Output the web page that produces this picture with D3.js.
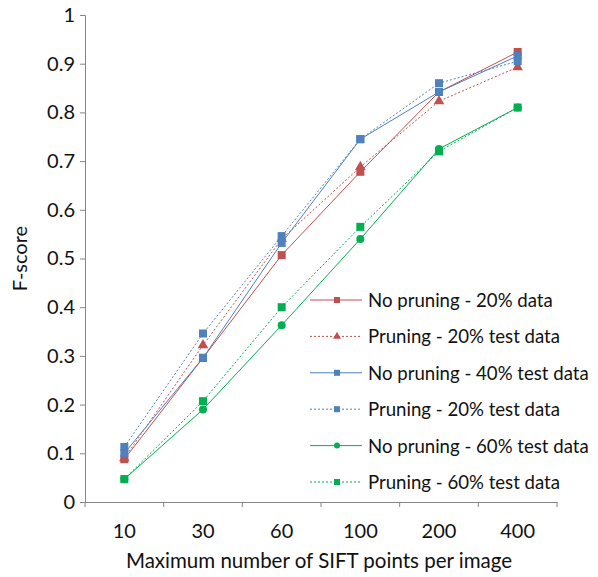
<!DOCTYPE html>
<html>
<head>
<meta charset="utf-8">
<script src="https://cdn.jsdelivr.net/npm/d3@7"></script>
<style>
  body { margin: 0; background: #fff; }
  text { font-family: Lato, "Open Sans", sans-serif; fill: #111; }
</style>
</head>
<body>
<div id="chart"></div>
<script>
// categories on the x axis
var categories = ["10", "30", "60", "100", "200", "400"];
var yTicks = [0, 0.1, 0.2, 0.3, 0.4, 0.5, 0.6, 0.7, 0.8, 0.9, 1];

// series values
var noPrune20   = [0.088, 0.296, 0.507, 0.678, 0.842, 0.924];
var prune20red  = [0.090, 0.322, 0.540, 0.688, 0.823, 0.893];
var noPrune40   = [0.100, 0.296, 0.532, 0.745, 0.842, 0.916];
var prune20blue = [0.113, 0.346, 0.546, 0.745, 0.860, 0.905];
var noPrune60   = [0.047, 0.190, 0.363, 0.540, 0.725, 0.810];
var prune60     = [0.047, 0.207, 0.400, 0.565, 0.720, 0.810];

var seriesNames = ["No pruning - 20% data", "Pruning - 20% test data",
  "No pruning - 40% test data", "Pruning - 20% test data",
  "No pruning - 60% test data", "Pruning - 60% test data"];

var series = [
  {name: seriesNames[0], values: noPrune20,   color: "#C0504D", dash: null,  marker: "square"},
  {name: seriesNames[1], values: prune20red,  color: "#C0504D", dash: "2,2", marker: "triangle"},
  {name: seriesNames[2], values: noPrune40,   color: "#4F81BD", dash: null,  marker: "square"},
  {name: seriesNames[3], values: prune20blue, color: "#4F81BD", dash: "2,2", marker: "square"},
  {name: seriesNames[4], values: noPrune60,   color: "#00B050", dash: null,  marker: "circle"},
  {name: seriesNames[5], values: prune60,     color: "#00B050", dash: "2,2", marker: "square"}
];

var width = 598, height = 577;
var margin = {top: 15, right: 41, bottom: 75, left: 85};

var svg = d3.select("#chart").append("svg")
  .attr("width", width)
  .attr("height", height);

var x = d3.scaleBand()
  .domain(categories)
  .range([margin.left, width - margin.right])
  .padding(0);

var y = d3.scaleLinear()
  .domain([0, 1])
  .range([height - margin.bottom, margin.top]);

var axisColor = "#868686";

// Y axis
var yAxis = svg.append("g")
  .attr("transform", "translate(" + margin.left + ",0)")
  .call(d3.axisLeft(y).tickValues(yTicks).tickSize(5).tickPadding(5)
    .tickFormat(function(d) { return d === 0 ? "0" : d === 1 ? "1" : d3.format(".1f")(d); }));
yAxis.select(".domain").attr("stroke", axisColor);
yAxis.selectAll(".tick line").attr("stroke", axisColor);
yAxis.selectAll("text").style("font-size", "20px").attr("fill", "#111");

// X axis (labels centred in bands, ticks at band edges)
var xAxis = svg.append("g")
  .attr("transform", "translate(0," + y(0) + ")")
  .call(d3.axisBottom(x).tickSize(0).tickPadding(22));
xAxis.select(".domain").attr("stroke", axisColor);
xAxis.selectAll("text").style("font-size", "20px").attr("fill", "#111");

var edges = categories.map(function(c) { return x(c); }).concat([x.range()[1]]);
svg.append("g").selectAll("line")
  .data(edges)
  .enter().append("line")
  .attr("x1", function(d) { return d; })
  .attr("x2", function(d) { return d; })
  .attr("y1", y(0))
  .attr("y2", y(0) + 5)
  .attr("stroke", axisColor);

// axis titles
svg.append("text")
  .attr("transform", "translate(27," + ((y(0) + y(1)) / 2) + ") rotate(-90)")
  .attr("text-anchor", "middle")
  .style("font-size", "20px")
  .text("F-score");

svg.append("text")
  .attr("x", 319)
  .attr("y", 568)
  .attr("text-anchor", "middle")
  .style("font-size", "20.5px")
  .text("Maximum number of SIFT points per image");

function drawMarker(g, type, color, size) {
  if (type === "circle") {
    g.append("circle").attr("r", size * 0.5).attr("fill", color);
  } else if (type === "triangle") {
    g.append("path").attr("d", d3.symbol(d3.symbolTriangle, size * size * 0.75)()).attr("fill", color);
  } else {
    g.append("rect").attr("x", -size / 2).attr("y", -size / 2)
      .attr("width", size).attr("height", size).attr("fill", color);
  }
}

var line = d3.line()
  .x(function(d, i) { return x(categories[i]) + x.bandwidth() / 2; })
  .y(function(d) { return y(d); });

// lines
series.forEach(function(s) {
  svg.append("path")
    .datum(s.values)
    .attr("d", line)
    .attr("fill", "none")
    .attr("stroke", s.color)
    .attr("stroke-width", 1)
    .attr("stroke-dasharray", s.dash);
});

// markers
series.forEach(function(s) {
  s.values.forEach(function(v, i) {
    var g = svg.append("g")
      .attr("transform", "translate(" + (x(categories[i]) + x.bandwidth() / 2) + "," + y(v) + ")");
    drawMarker(g, s.marker, s.color, 8);
  });
});

// legend
var legend = svg.append("g");
series.forEach(function(s, i) {
  var ly = 300 + i * 36.4;
  var row = legend.append("g").attr("transform", "translate(0," + ly + ")");
  row.append("line")
    .attr("x1", 310).attr("x2", 362)
    .attr("stroke", s.color)
    .attr("stroke-width", 1)
    .attr("stroke-dasharray", s.dash);
  var m = row.append("g").attr("transform", "translate(337,0)");
  drawMarker(m, s.marker, s.color, 6);
  row.append("text")
    .attr("x", 368)
    .attr("y", 7)
    .style("font-size", "18.6px")
    .text(s.name);
});
</script>
</body>
</html>
